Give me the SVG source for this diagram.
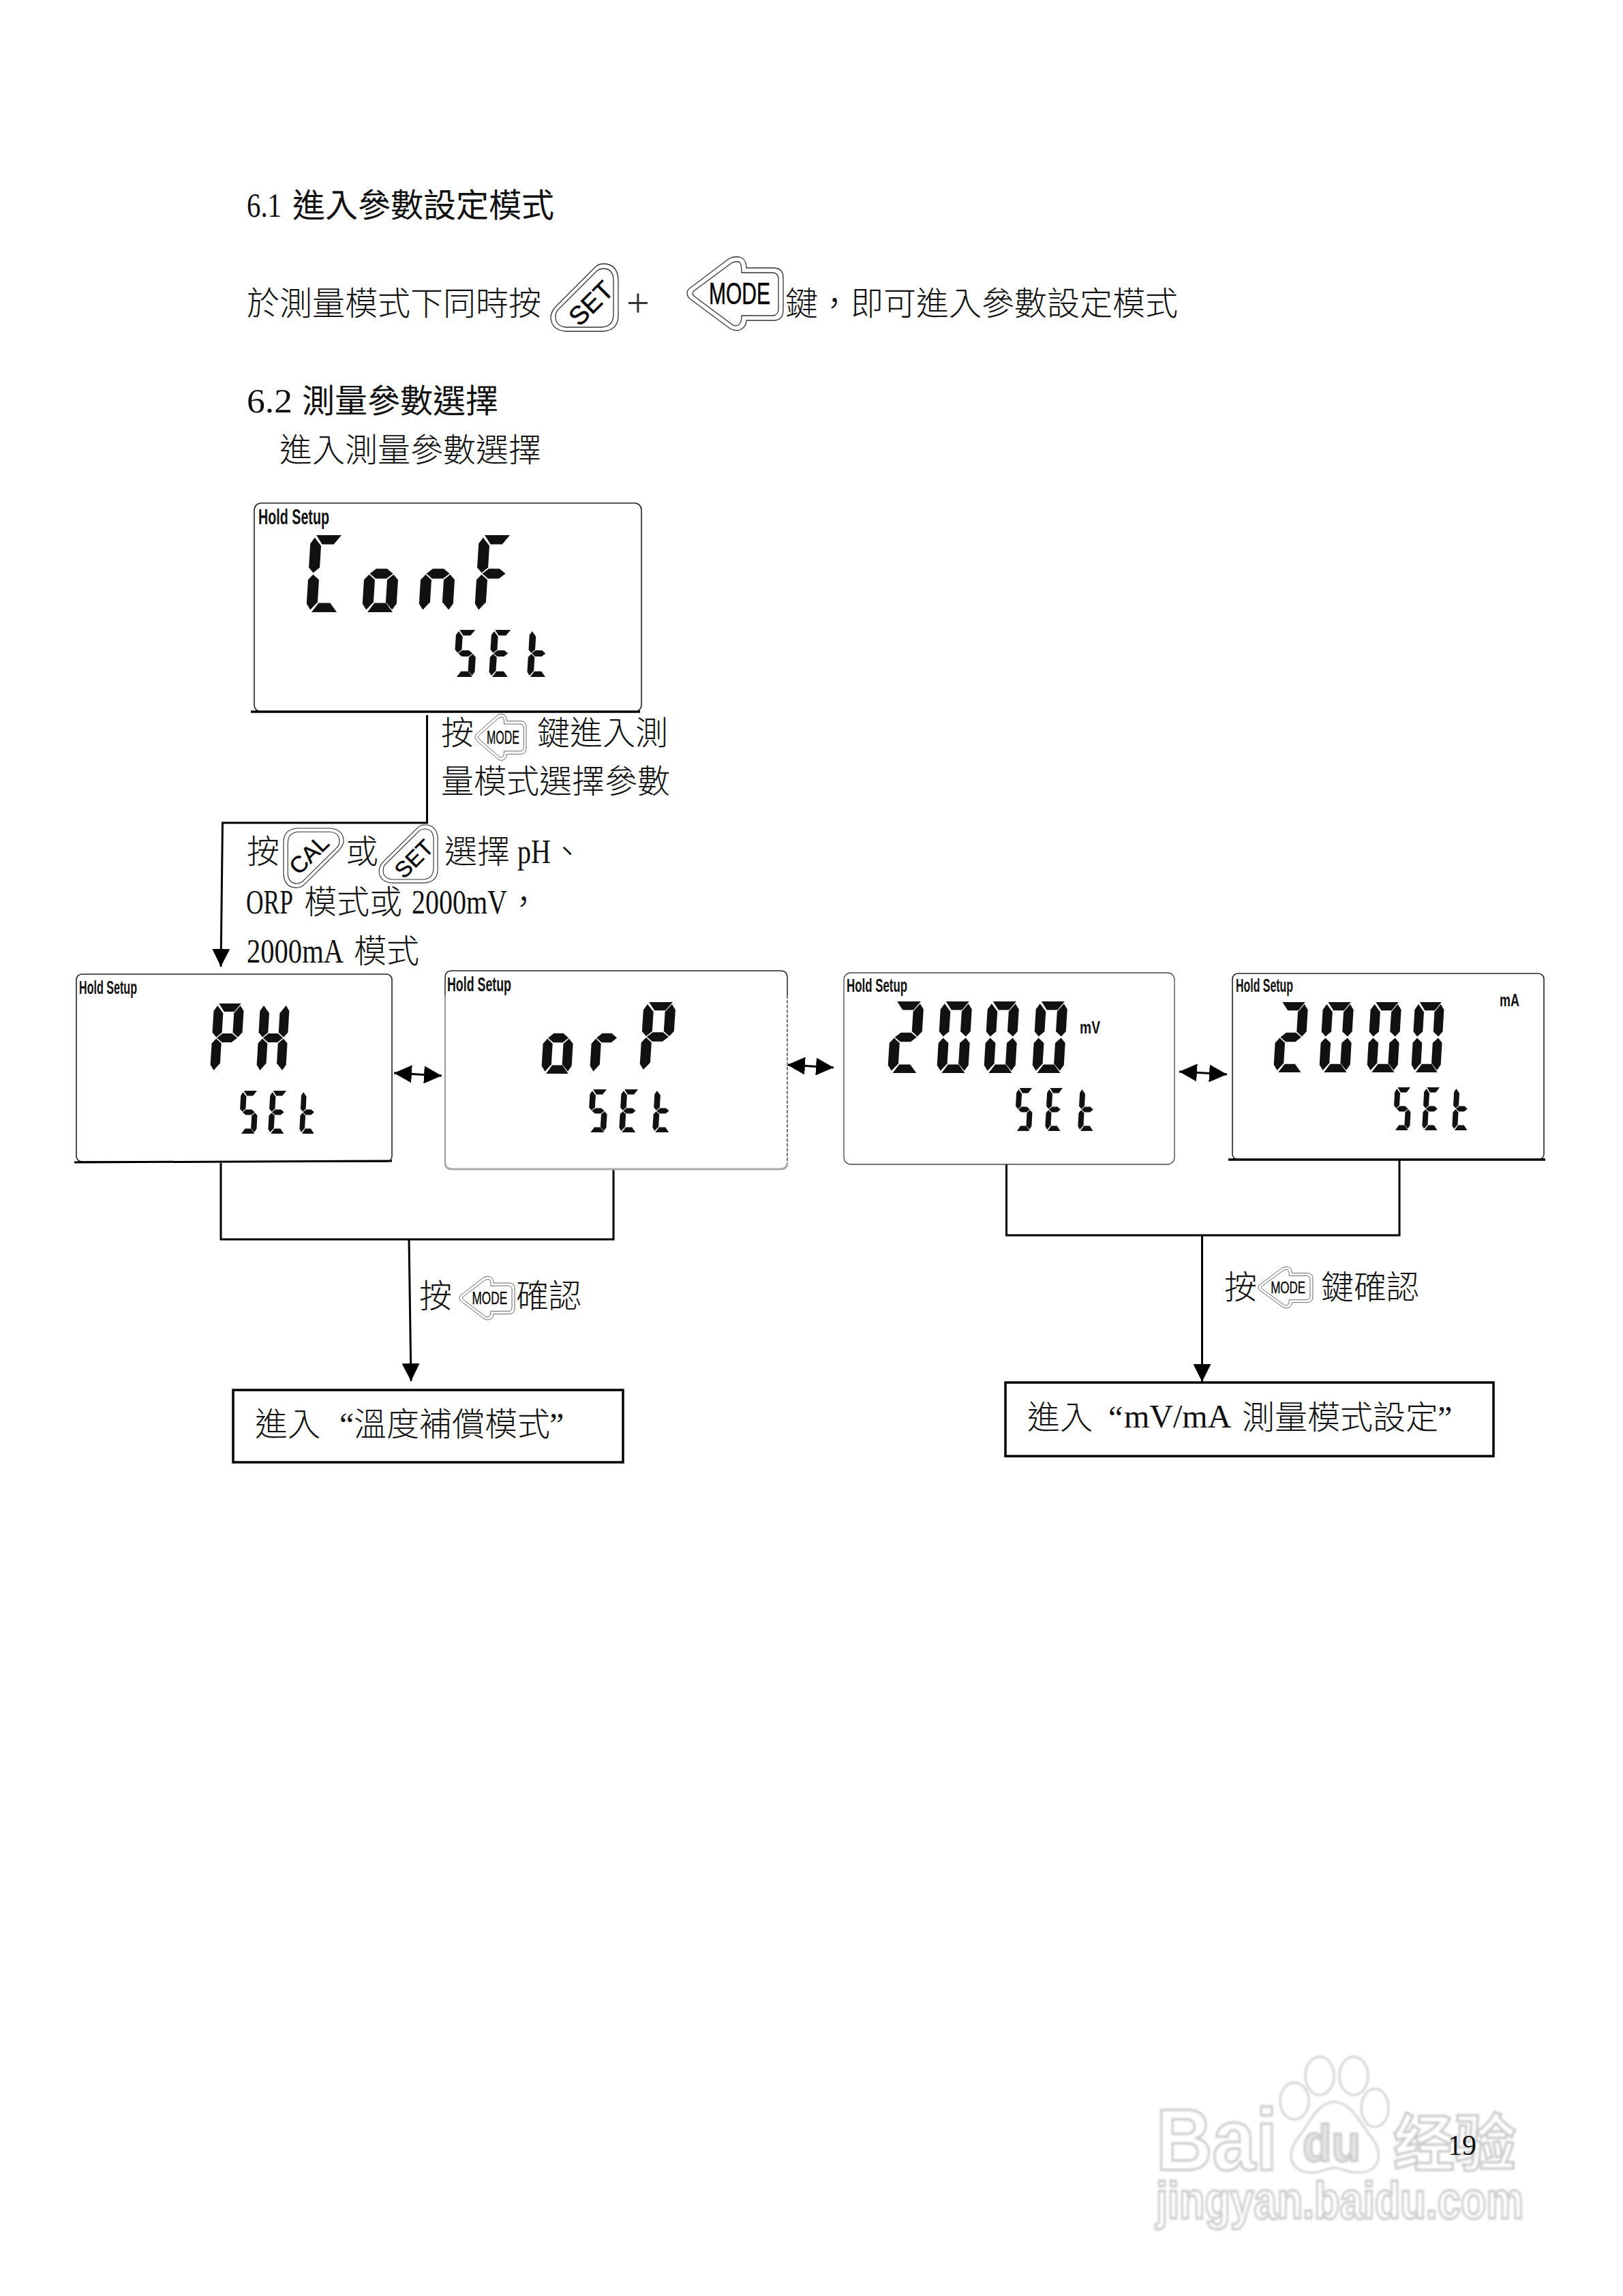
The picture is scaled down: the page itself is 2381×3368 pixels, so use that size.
<svg xmlns="http://www.w3.org/2000/svg" width="2381" height="3368" viewBox="0 0 2381 3368">
<style>
text{fill:#111}
.c{font-family:"Noto Sans CJK TC","Noto Sans CJK JP",sans-serif;font-size:48px;font-weight:300}
.hd{font-weight:400}
.s{font-family:"Liberation Serif",serif;font-size:50px;font-weight:400}
.t{font-family:"Liberation Serif",serif;font-size:48px}
.h{font-family:"Liberation Sans",sans-serif;font-weight:700;font-size:27px;fill:#111}
.kt{font-family:"Liberation Sans",sans-serif;font-size:38px;fill:#000;stroke:#000;stroke-width:.5}
.ko{fill:#fff;stroke:#333;stroke-width:1.3}
.ki{fill:none;stroke:#333;stroke-width:1.3}
.lcd{fill:#fff;stroke:#222;stroke-width:1.6}
.w{fill:none;stroke:#000;stroke-width:3.5}
.cn{fill:none;stroke:#000;stroke-width:3}
.wm text{fill:#fff;stroke:#cacaca;stroke-width:3.5;font-family:"Liberation Sans",sans-serif;font-weight:700}
.wm .p{fill:#fff;stroke:#d0d0d0;stroke-width:3}
.seg{fill:#111}
</style>
<defs>
<marker id="ah" markerUnits="userSpaceOnUse" markerWidth="26" markerHeight="26" viewBox="0 0 24 24" refX="24" refY="12" orient="auto-start-reverse"><path d="M0 0L24 12L0 24Z" fill="#000"/></marker>
<filter id="soft" x="-5%" y="-5%" width="110%" height="110%"><feGaussianBlur stdDeviation="1.6"/></filter>
<g id="sa"><polygon class="seg" points="16,0 90,0 69,24 35,24"/></g>
<g id="sb"><polygon class="seg" points="88,6 100,22 100,84 86,98 68,84 68,28"/></g>
<g id="sc"><polygon class="seg" points="86,102 100,116 100,178 88,194 68,174 68,116"/></g>
<g id="sd"><polygon class="seg" points="35,176 69,176 90,200 16,200"/></g>
<g id="se"><polygon class="seg" points="14,102 32,116 32,174 12,194 0,178 0,116"/></g>
<g id="sf"><polygon class="seg" points="12,6 32,28 32,84 14,98 0,84 0,22"/></g>
<g id="sg"><polygon class="seg" points="16,100 34,87 66,87 84,100 66,113 34,113"/></g>
<g id="C" transform="matrix(1 0 -.07 1 14 0)"><use href="#sa"/><use href="#sf"/><use href="#se"/><use href="#sd"/></g>
<g id="o" transform="matrix(1 0 -.07 1 14 0)"><use href="#sg"/><use href="#sc"/><use href="#sd"/><use href="#se"/></g>
<g id="n" transform="matrix(1 0 -.07 1 14 0)"><use href="#sg"/><use href="#sc"/><use href="#se"/></g>
<g id="F" transform="matrix(1 0 -.07 1 14 0)"><use href="#sa"/><use href="#sf"/><use href="#sg"/><use href="#se"/></g>
<g id="S" transform="matrix(1 0 -.07 1 14 0)"><use href="#sa"/><use href="#sf"/><use href="#sg"/><use href="#sc"/><use href="#sd"/></g>
<g id="E" transform="matrix(1 0 -.07 1 14 0)"><use href="#sa"/><use href="#sf"/><use href="#sg"/><use href="#se"/><use href="#sd"/></g>
<g id="tt" transform="matrix(1 0 -.07 1 14 0)"><use href="#sf"/><use href="#sg"/><use href="#se"/><use href="#sd"/></g>
<g id="P" transform="matrix(1 0 -.07 1 14 0)"><use href="#sa"/><use href="#sf"/><use href="#sb"/><use href="#sg"/><use href="#se"/></g>
<g id="H" transform="matrix(1 0 -.07 1 14 0)"><use href="#sf"/><use href="#sb"/><use href="#sg"/><use href="#se"/><use href="#sc"/></g>
<g id="r" transform="matrix(1 0 -.07 1 14 0)"><use href="#sg"/><use href="#se"/></g>
<g id="d2" transform="matrix(1 0 -.07 1 14 0)"><use href="#sa"/><use href="#sb"/><use href="#sg"/><use href="#se"/><use href="#sd"/></g>
<g id="d0" transform="matrix(1 0 -.07 1 14 0)"><use href="#sa"/><use href="#sb"/><use href="#sc"/><use href="#sd"/><use href="#se"/><use href="#sf"/></g>
<g id="tri"><path class="ko" d="M22 99L77 99Q99 97 99 76L99 23Q98 0 77 0Q70 0 65 5L7 63Q0 71 0 79Q1 97 22 99Z"/><path class="ki" d="M23 93L75 93Q92 92 92 73L92 23Q91 7 77 7Q72 7 68 10L10 68Q7 71 7 79Q8 92 23 93Z"/></g>
<g id="btnSet"><use href="#tri"/><text class="kt" transform="translate(59 58) rotate(-45)" text-anchor="middle" y="13">SET</text></g>
<g id="btnCal"><use href="#tri" transform="rotate(180 49.5 49.5)"/><text class="kt" transform="translate(42 44) rotate(-45)" text-anchor="middle" y="13">CAL</text></g>
<g id="btnMode"><path class="ko" d="M0 54Q0 49 5 46L62 3Q68 0 77 1Q87 4 87 17L128 17Q141 18 141 31L141 79Q141 93 128 94L87 94Q87 104 77 108Q70 110 63 106L5 63Q0 59 0 54Z"/><path class="ki" d="M8 54Q8 52 11 50L65 10Q70 7 76 8Q80 10 80 24L126 24Q134 25 134 33L134 77Q134 86 126 87L80 87Q80 98 75 101Q70 103 66 100L11 59Q8 57 8 54Z"/><text x="32" y="70" textLength="90" lengthAdjust="spacingAndGlyphs" style="font-family:'Liberation Sans',sans-serif;font-size:44px;fill:#000;stroke:#000;stroke-width:.5">MODE</text></g>
</defs>
<rect width="2381" height="3368" fill="#fff"/>

<g id="watermark" class="wm" filter="url(#soft)">
<text x="1696" y="3183" font-size="128" textLength="178" lengthAdjust="spacingAndGlyphs">Bai</text>
<path class="p" d="M1958 3083C1985 3085 1998 3120 2012 3135C2030 3160 2025 3187 1990 3187C1975 3187 1970 3180 1958 3180C1945 3180 1940 3187 1925 3187C1893 3187 1885 3160 1905 3135C1920 3118 1930 3085 1958 3083Z"/>
<ellipse class="p" cx="1936" cy="3045" rx="21" ry="28"/><ellipse class="p" cx="1986" cy="3045" rx="21" ry="28"/><ellipse class="p" cx="1899" cy="3082" rx="21" ry="27"/><ellipse class="p" cx="2017" cy="3092" rx="20" ry="28"/>
<text x="1911" y="3170" font-size="76" textLength="85" lengthAdjust="spacingAndGlyphs" style="fill:#e4e4e4">du</text>
<text x="2044" y="3176" font-size="90" textLength="180" lengthAdjust="spacingAndGlyphs" style="font-family:'Noto Sans CJK SC',sans-serif">经验</text>
<text x="1696" y="3254" font-size="76" textLength="539" lengthAdjust="spacingAndGlyphs">jingyan.baidu.com</text>
</g>

<g id="intro">
<text class="c hd" y="318" x="362"><tspan class="s" x="362" textLength="51" lengthAdjust="spacingAndGlyphs">6.1</tspan> <tspan x="429">進入參數設定模式</tspan></text>
<text class="c" y="462" x="362">於測量模式下同時按</text>
<use href="#btnSet" x="808" y="387"/>
<text class="s" x="919" y="464" style="font-size:60px;fill:#333">+</text>
<use href="#btnMode" x="1008" y="376"/>
<text class="c" y="462" x="1152">鍵&#xFF0C;即可進入參數設定模式</text>
<text class="c hd" y="605" x="362"><tspan class="s" x="362" textLength="67" lengthAdjust="spacingAndGlyphs">6.2</tspan> <tspan x="443">測量參數選擇</tspan></text>
<text class="c" y="677" x="410">進入測量參數選擇</text>
</g>

<g id="connectors">
<path class="cn" d="M626.5 1049V1207H326.5L324 1418" marker-end="url(#ah)"/>
<path class="cn" d="M578 1574L648 1578" marker-start="url(#ah)" marker-end="url(#ah)"/>
<path class="cn" d="M1155 1562L1223 1566" marker-start="url(#ah)" marker-end="url(#ah)"/>
<path class="cn" d="M1730 1572L1800 1576" marker-start="url(#ah)" marker-end="url(#ah)"/>
<path class="cn" d="M324 1706V1818H900V1712"/>
<path class="cn" d="M600 1818L603 2026" marker-end="url(#ah)"/>
<path class="cn" d="M1476.5 1704V1812H2053V1701"/>
<path class="cn" d="M1763.5 1812V2027" marker-end="url(#ah)"/>
</g>

<g id="lcd-conf">
<rect class="lcd" x="373" y="738" width="568" height="306" rx="10"/>
<path d="M368 1044H939" stroke="#000" stroke-width="3.5"/>
<text class="h" x="379" y="769" textLength="104" lengthAdjust="spacingAndGlyphs" style="font-size:31px">Hold Setup</text>
<use href="#C" transform="translate(449 785) scale(.5 .565)"/><use href="#o" transform="translate(531 785) scale(.5 .565)"/><use href="#n" transform="translate(614 785) scale(.5 .565)"/><use href="#F" transform="translate(696 785) scale(.5 .565)"/>
<use href="#S" transform="translate(665 924) scale(.31 .345)"/><use href="#E" transform="translate(717 924) scale(.31 .345)"/><use href="#tt" transform="translate(773 924) scale(.3 .345)"/>
</g>

<g id="label-mode-enter">
<text class="c" y="1092" x="647">按</text>
<use href="#btnMode" transform="translate(697 1047) scale(.532 .63)"/>
<text class="c" y="1092" x="788">鍵進入測</text>
<text class="c" y="1163" x="647">量模式選擇參數</text>
</g>

<g id="label-select">
<text class="c" y="1266" x="362">按</text>
<use href="#btnCal" transform="translate(416 1215) scale(.89 .88)"/>
<text class="c" y="1266" x="507">或</text>
<use href="#btnSet" transform="translate(556 1210) scale(.87 .86)"/>
<text class="c" y="1266" x="652">選擇<tspan class="s" x="759" textLength="49" lengthAdjust="spacingAndGlyphs">pH</tspan><tspan x="808">、</tspan></text>
<text class="c" y="1340" x="361"><tspan class="s" x="361" textLength="69" lengthAdjust="spacingAndGlyphs">ORP</tspan> <tspan x="446">模式或</tspan> <tspan class="s" x="604" textLength="140" lengthAdjust="spacingAndGlyphs">2000mV</tspan><tspan x="744">&#xFF0C;</tspan></text>
<text class="c" y="1412" x="362"><tspan class="s" x="362" textLength="142" lengthAdjust="spacingAndGlyphs">2000mA</tspan> <tspan x="519">模式</tspan></text>
</g>

<g id="lcd-ph">
<rect class="lcd" x="112" y="1429" width="463" height="275" rx="8"/>
<path d="M109 1705L575 1703" stroke="#000" stroke-width="3"/>
<text class="h" x="116" y="1458" textLength="85" lengthAdjust="spacingAndGlyphs">Hold Setup</text>
<use href="#P" transform="translate(308 1472) scale(.44 .505)"/><use href="#H" transform="translate(376 1472) scale(.43 .505)"/>
<use href="#S" transform="translate(350 1600) scale(.26 .315)"/><use href="#E" transform="translate(393 1600) scale(.26 .315)"/><use href="#tt" transform="translate(439 1600) scale(.24 .315)"/>
</g>

<g id="lcd-orp">
<path d="M653 1460V1705Q653 1715 663 1715H1145Q1155 1715 1155 1705" fill="#fff" stroke="#999" stroke-width="2"/>
<path d="M653 1708Q655 1715 663 1715H1145Q1153 1715 1155 1708" fill="none" stroke="#aaa" stroke-width="3"/>
<path d="M1155 1460V1705" fill="none" stroke="#777" stroke-width="2" stroke-dasharray="5 2"/>
<path d="M653 1460V1434Q653 1424 663 1424H1145Q1155 1424 1155 1434V1460" fill="#fff" stroke="#222" stroke-width="1.5"/>
<text class="h" x="656" y="1454" textLength="94" lengthAdjust="spacingAndGlyphs" style="font-size:29px">Hold Setup</text>
<use href="#o" transform="translate(794 1470) scale(.44 .525)"/><use href="#r" transform="translate(865 1470) scale(.44 .525)"/><use href="#P" transform="translate(938 1470) scale(.47 .51)"/>
<use href="#S" transform="translate(862 1598) scale(.27 .315)"/><use href="#E" transform="translate(908 1598) scale(.27 .315)"/><use href="#tt" transform="translate(957 1598) scale(.27 .315)"/>
</g>

<g id="lcd-mv">
<rect class="lcd" x="1238" y="1427" width="485" height="281" rx="10" style="stroke:#444;stroke-width:1.3"/>
<text class="h" x="1242" y="1455" textLength="89" lengthAdjust="spacingAndGlyphs">Hold Setup</text>
<use href="#d2" transform="translate(1302 1469) scale(.47 .525)"/><use href="#d0" transform="translate(1374 1469) scale(.46 .525)"/><use href="#d0" transform="translate(1443 1469) scale(.46 .525)"/><use href="#d0" transform="translate(1514 1469) scale(.46 .525)"/>
<text class="h" x="1584" y="1516" textLength="30" lengthAdjust="spacingAndGlyphs" style="font-size:25px">mV</text>
<use href="#S" transform="translate(1488 1596) scale(.25 .315)"/><use href="#E" transform="translate(1533 1596) scale(.25 .315)"/><use href="#tt" transform="translate(1581 1596) scale(.25 .315)"/>
</g>

<g id="lcd-ma">
<rect class="lcd" x="1808" y="1428" width="457" height="273" rx="8"/>
<path d="M1802 1701H2267" stroke="#000" stroke-width="3.5"/>
<text class="h" x="1813" y="1455" textLength="84" lengthAdjust="spacingAndGlyphs">Hold Setup</text>
<use href="#d2" transform="translate(1868 1470) scale(.45 .515)"/><use href="#d0" transform="translate(1935 1470) scale(.45 .515)"/><use href="#d0" transform="translate(2005 1470) scale(.45 .515)"/><use href="#d0" transform="translate(2070 1470) scale(.43 .515)"/>
<text class="h" x="2200" y="1476" textLength="29" lengthAdjust="spacingAndGlyphs" style="font-size:25px">mA</text>
<use href="#S" transform="translate(2043 1595) scale(.25 .315)"/><use href="#E" transform="translate(2086 1595) scale(.25 .315)"/><use href="#tt" transform="translate(2130 1595) scale(.25 .315)"/>
</g>

<g id="label-confirm-left">
<text class="c" y="1918" x="615">按</text>
<use href="#btnMode" transform="translate(674 1872) scale(.575 .59)"/>
<text class="c" y="1918" x="757">確認</text>
</g>
<g id="label-confirm-right">
<text class="c" y="1905" x="1796">按</text>
<use href="#btnMode" transform="translate(1846 1858) scale(.567 .56)"/>
<text class="c" y="1905" x="1938">鍵確認</text>
</g>

<g id="box-temp">
<rect class="w" x="342" y="2039" width="572" height="106"/>
<text class="c" y="2106" x="374">進入<tspan class="t" x="498">“</tspan><tspan x="519">溫度補償模式</tspan><tspan class="t" x="806">”</tspan></text>
</g>
<g id="box-mvma">
<rect class="w" x="1475" y="2028" width="716" height="108"/>
<text class="c" y="2096" x="1507">進入<tspan class="t" x="1626">“</tspan><tspan class="t" x="1649" y="2094">mV/mA</tspan><tspan x="1822" y="2096">測量模式設定</tspan><tspan class="t" x="2109">”</tspan></text>
</g>

<text id="page-number" class="t" x="2124" y="3161" style="font-size:42px">19</text>
</svg>
